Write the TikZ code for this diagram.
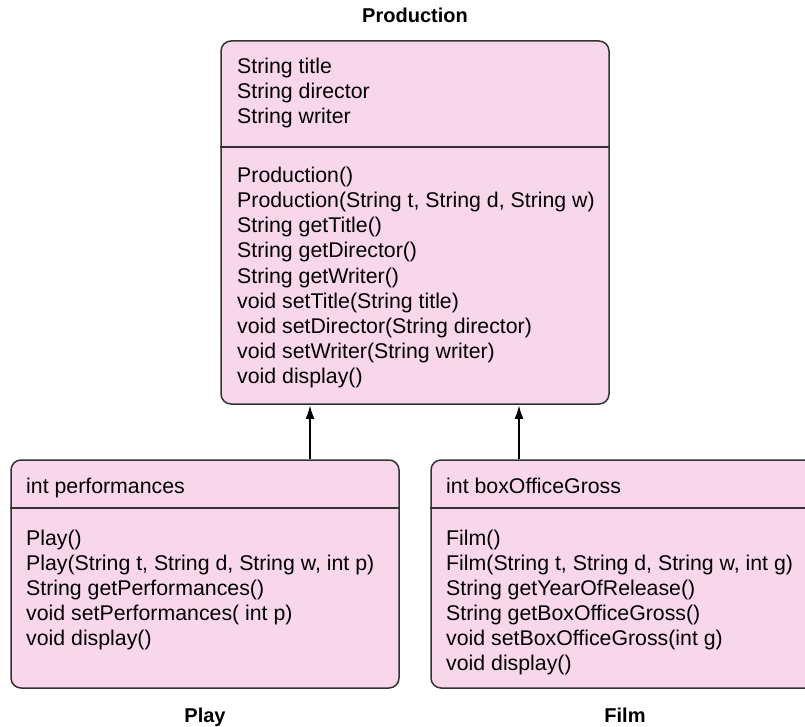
\documentclass[tikz,border=0pt]{standalone}
\usepackage{fontspec}
\setmainfont{Liberation Sans}
\usetikzlibrary{arrows.meta}
\definecolor{umlpink}{RGB}{249,215,234}
\definecolor{umledge}{RGB}{51,51,51}
\begin{document}
\begin{tikzpicture}[x=1pt,y=-1pt,
 classbox/.style={draw=umledge, line width=1.5pt, fill=umlpink, rounded corners=10pt, inner sep=0pt, shape=rectangle},
 divider/.style={draw=umledge, line width=1.5pt},
 member/.style={anchor=base west, inner sep=0pt, font=\fontsize{21.3}{25}\selectfont},
 classname/.style={font=\fontsize{20}{24}\selectfont\bfseries, inner sep=0pt, anchor=base},
 inherit/.style={line width=2.5pt, -{Latex[length=14pt,width=9pt]}}]
\clip (0,0) rectangle (805,727);
\fill[white] (0,0) rectangle (805,727);
% boxes
\node[classbox, minimum width=388pt, minimum height=363pt] (prod) at (415,222.5) {};
\node[classbox, minimum width=388pt, minimum height=228pt] (play) at (205,574) {};
\node[classbox, minimum width=388pt, minimum height=228pt] (film) at (625,574) {};
% dividers
\draw[divider] (prod.west |- 0,147) -- (prod.east |- 0,147);
\draw[divider] (play.west |- 0,508) -- (play.east |- 0,508);
\draw[divider] (film.west |- 0,508) -- (film.east |- 0,508);
% Production members
\foreach \t [count=\i] in {String title, String director, String writer}
  \node[member] (pa\i) at ({237},{74+25*(\i-1)}) {\t};
\foreach \t [count=\i] in {Production(), {Production(String t, String d, String w)}, String getTitle(), String getDirector(), String getWriter(), void setTitle(String title), void setDirector(String director), void setWriter(String writer), void display()}
  \node[member] (pm\i) at ({237},{183+25*(\i-1)}) {\t};
% Play members
\node[member] (qa1) at (26,493) {int performances};
\foreach \t [count=\i] in {Play(), {Play(String t, String d, String w, int p)}, String getPerformances(), void setPerformances( int p), void display()}
  \node[member] (qm\i) at ({26},{545+25*(\i-1)}) {\t};
% Film members
\node[member] (fa1) at (446,493) {int boxOfficeGross};
\foreach \t [count=\i] in {Film(), {Film(String t, String d, String w, int g)}, String getYearOfRelease(), String getBoxOfficeGross(), void setBoxOfficeGross(int g), void display()}
  \node[member] (fm\i) at ({446},{545+25*(\i-1)}) {\t};
% class names
\node[classname] (lprod) at (415,23) {Production};
\node[classname] (lplay) at (205,722) {Play};
\node[classname] (lfilm) at (625,722) {Film};
% inheritance arrows
\coordinate (a1) at (310,0);
\coordinate (a2) at (519,0);
\draw[inherit] (play.north -| a1) -- (prod.south -| a1);
\draw[inherit] (film.north -| a2) -- (prod.south -| a2);
\end{tikzpicture}
\end{document}
